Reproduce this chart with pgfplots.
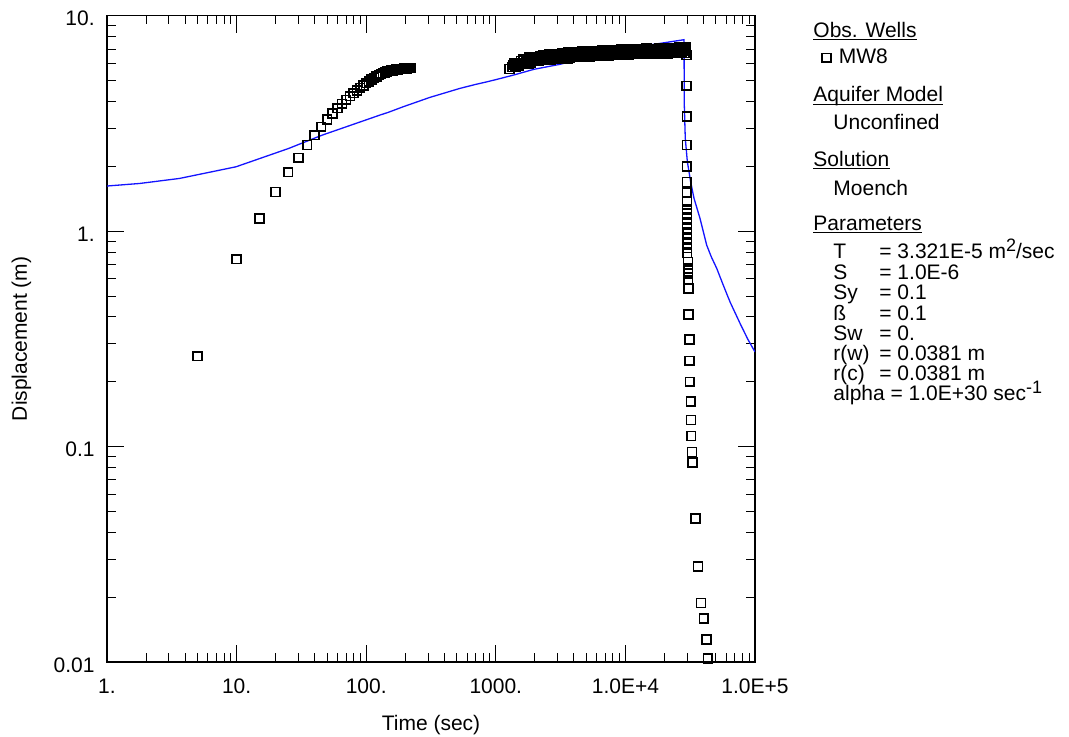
\documentclass[border=0pt]{standalone}
\usepackage{fontspec}
\setmainfont{Liberation Sans}
\usepackage{pgfplots}
\pgfplotsset{compat=1.18}
\definecolor{fitblue}{RGB}{20,20,255}
\newcommand{\lf}{\fontsize{10.5}{12.5}\selectfont}
\newcommand{\sups}[1]{\raisebox{3.4pt}{\fontsize{9}{9}\selectfont #1}}

\begin{document}
\lf
\begin{tikzpicture}
\useasboundingbox (0,0) rectangle (534.5pt,368pt);
\begin{axis}[
  at={(53.5pt,37pt)}, anchor=south west,
  width=324pt, height=323.15pt, scale only axis,
  xmode=log, ymode=log,
  xmin=1, xmax=1e5, ymin=0.01, ymax=10,
  xtick={1,10,100,1000,10000,100000},
  xticklabels={1.,10.,100.,1000.,1.0E+4,1.0E+5},
  ytick={0.01,0.1,1,10},
  yticklabels={0.01,0.1,1.,10.},
  tick align=inside,
  major tick length=8.5pt, minor tick length=4.4pt,
  every tick/.style={black, line width=0.5pt},
  axis line style={line width=0.65pt},
  tick label style={font=\lf},
  xticklabel style={anchor=base, inner sep=0pt, yshift=-15.5pt},
  yticklabel style={anchor=base east, inner sep=0pt, xshift=-6pt, yshift=-5pt},
  xlabel={Time (sec)},
  xlabel style={at={(axis description cs:0.5,0)}, anchor=base, inner sep=0pt, yshift=-34pt, font=\lf},
  ylabel={Displacement (m)},
  ylabel style={at={(axis description cs:-0.1235,0.5)}, anchor=base, inner sep=0pt, font=\lf},
  legend style={at={(axis description cs:1.1034,0.9349)}, anchor=west, draw=none, fill=none,
    inner sep=0pt, outer sep=0pt, font=\lf, nodes={inner sep=0pt}, column sep=4pt},
  legend image code/.code={\draw[#1] plot coordinates {(0pt,0pt)};},
]
% observed drawdown, MW8
\addplot[only marks, mark=square, mark size=2.2pt, mark options={black, line width=0.8pt}]
  table {
5 0.263
10 0.741
15 1.146
20 1.52
25 1.88
30 2.19
35 2.51
40 2.79
45 3.05
50 3.30
55 3.52
60 3.72
65 3.90
70 4.07
75 4.23
80 4.37
85 4.50
90 4.63
95 4.75
100 4.86
105 4.96
110 5.06
115 5.15
120 5.23
125 5.31
130 5.37
135 5.42
140 5.46
145 5.50
150 5.53
155 5.56
160 5.58
165 5.60
170 5.62
175 5.63
180 5.65
185 5.66
190 5.67
195 5.68
200 5.69
205 5.70
210 5.71
215 5.72
220 5.73
1271 5.66
1350 5.78
1370 5.90
1390 6.00
1410 5.82
1430 5.78
1450 6.04
1470 6.01
1490 5.83
1510 5.85
1535 6.05
1560 6.16
1580 5.97
1600 6.02
1625 6.25
1650 6.29
1675 6.00
1700 6.05
1725 6.22
1750 6.20
1775 6.15
1800 6.01
1825 6.40
1850 6.31
1875 6.04
1900 6.24
1930 6.34
1960 6.42
1990 6.21
2020 6.15
2050 6.42
2080 6.36
2110 6.15
2140 6.16
2170 6.36
2200 6.47
2230 6.25
2260 6.29
2295 6.52
2330 6.56
2365 6.25
2400 6.28
2435 6.45
2470 6.43
2505 6.37
2540 6.22
2575 6.61
2610 6.52
2650 6.23
2690 6.43
2730 6.54
2770 6.61
2810 6.39
2850 6.33
2890 6.59
2930 6.53
2975 6.31
3020 6.32
3065 6.52
3110 6.62
3155 6.40
3200 6.44
3245 6.67
3290 6.71
3340 6.38
3390 6.42
3440 6.59
3490 6.56
3540 6.50
3590 6.34
3640 6.74
3690 6.65
3745 6.36
3800 6.56
3855 6.66
3910 6.73
3970 6.51
4030 6.45
4085 6.72
4140 6.66
4205 6.43
4270 6.44
4330 6.64
4390 6.74
4455 6.52
4520 6.55
4585 6.79
4650 6.82
4720 6.49
4790 6.53
4860 6.70
4930 6.67
5000 6.61
5070 6.44
5145 6.84
5220 6.75
5295 6.46
5370 6.66
5450 6.76
5530 6.83
5610 6.60
5690 6.54
5775 6.81
5860 6.75
5945 6.51
6030 6.51
6115 6.72
6200 6.82
6295 6.59
6390 6.63
6480 6.87
6570 6.90
6670 6.57
6770 6.61
6865 6.78
6960 6.74
7065 6.68
7170 6.52
7275 6.92
7380 6.82
7485 6.52
7590 6.73
7700 6.83
7810 6.90
7925 6.67
8040 6.61
8160 6.87
8280 6.81
8400 6.58
8520 6.58
8645 6.78
8770 6.89
8895 6.65
9020 6.69
9155 6.93
9290 6.96
9425 6.63
9560 6.67
9700 6.84
9840 6.80
9970 6.74
10100 6.58
10250 6.98
10400 6.88
10550 6.58
10700 6.79
10850 6.89
11000 6.96
11200 6.73
11400 6.66
11550 6.94
11700 6.87
11850 6.63
12000 6.64
12200 6.84
12400 6.95
12600 6.71
12800 6.75
12950 6.99
13100 7.02
13300 6.69
13500 6.73
13700 6.90
13900 6.86
14100 6.80
14300 6.63
14500 7.05
14700 6.94
14950 6.64
15200 6.85
15400 6.95
15600 7.02
15850 6.78
16100 6.71
16300 6.99
16500 6.93
16750 6.69
17000 6.69
17250 6.89
17500 7.00
17750 6.76
18000 6.80
18300 7.04
18600 7.08
18850 6.73
19100 6.77
19400 6.94
19700 6.91
19950 6.85
20200 6.67
20500 7.09
20800 6.98
21100 6.68
21400 6.89
21700 6.99
22000 7.06
22350 6.82
22700 6.75
23050 7.03
23400 6.97
23700 6.73
24000 6.73
24350 6.93
24700 7.04
25100 6.80
25500 6.84
25850 7.08
26200 7.12
26600 6.77
27000 6.81
27400 6.98
27800 6.95
28200 6.89
28600 6.71
29000 7.13
29400 7.02
29650 6.57
29700 4.73
29720 3.40
29740 2.51
29760 2.00
29780 1.69
29800 1.51
29820 1.37
29840 1.27
29860 1.21
29880 1.149
29900 1.089
29920 1.033
29940 0.979
29960 0.928
29980 0.880
30000 0.834
30020 0.790
30450 0.720
30480 0.671
30510 0.636
30540 0.592
30570 0.542
30600 0.411
31200 0.314
31330 0.250
31450 0.200
31950 0.162
32070 0.133
32200 0.112
32700 0.0944
32830 0.0843
34860 0.0463
36340 0.0278
38320 0.0188
40190 0.0159
42380 0.0127
43150 0.0104
};
\addlegendentry{MW8}
% Moench solution
\addplot[fitblue, line width=0.65pt, no marks, forget plot]
  table {
1 1.62
1.79 1.665
3.63 1.757
9.9 1.99
25.2 2.42
45.7 2.79
128 3.46
148 3.56
193 3.78
311 4.18
529 4.60
700 4.80
850 4.93
1000 5.05
1365 5.30
1970 5.64
3128 5.95
4460 6.27
7600 6.69
12400 7.18
18500 7.44
28330 7.74
28480 3.85
28970 2.70
30060 2.10
31900 1.69
33840 1.42
37640 1.146
40000 0.99
42390 0.861
46000 0.76
50700 0.671
57000 0.56
64200 0.469
76700 0.373
88000 0.315
100000 0.275
};
\end{axis}
% side panel
\begin{scope}[every node/.style={anchor=base west, inner sep=0pt, font=\lf}]
\node (h1) at (406.5pt,349.5pt) {Obs. Wells};
\node (h2) at (406.5pt,317.25pt) {Aquifer Model};
\node at (416.5pt,303.25pt) {Unconfined};
\node (h3) at (406.5pt,285pt) {Solution};
\node at (416.5pt,270.5pt) {Moench};
\node (h4) at (406.5pt,253pt) {Parameters};
\foreach \n in {h1,h2,h3,h4}
  \draw[line width=0.5pt] ([yshift=-1.4pt]\n.base west) -- ([yshift=-1.4pt]\n.base east);
\node at (416.5pt,239pt) {T};
\node at (439.5pt,239pt) {= 3.321E-5 m\sups{2}/sec};
\node at (416.5pt,228.5pt) {S};
\node at (439.5pt,228.5pt) {= 1.0E-6};
\node at (416.5pt,218.25pt) {Sy};
\node at (439.5pt,218.25pt) {= 0.1};
\node at (416.5pt,208pt) {ß};
\node at (439.5pt,208pt) {= 0.1};
\node at (416.5pt,198pt) {Sw};
\node at (439.5pt,198pt) {= 0.};
\node at (416.5pt,188pt) {r(w)};
\node at (439.5pt,188pt) {= 0.0381 m};
\node at (416.5pt,178pt) {r(c)};
\node at (439.5pt,178pt) {= 0.0381 m};
\node at (416.5pt,168pt) {alpha = 1.0E+30 sec\sups{-1}};
\end{scope}
\end{tikzpicture}
\end{document}
